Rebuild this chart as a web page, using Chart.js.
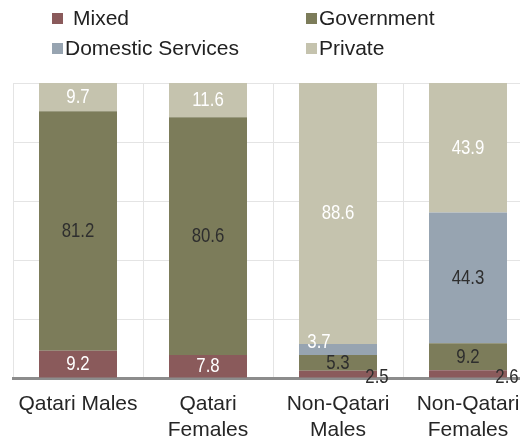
<!DOCTYPE html>
<html>
<head>
<meta charset="utf-8">
<script src="https://cdn.jsdelivr.net/npm/chart.js@4"></script>
<style>
  html, body { margin: 0; padding: 0; background: #fff; overflow: hidden; width: 520px; height: 439px; }
  #wrap { position: absolute; left: 0; top: 0; width: 540px; height: 439px; }
  #legend { position: absolute; left: 0; top: 0; width: 520px; height: 70px; font-family: "Liberation Sans", Arial, sans-serif; font-size: 21px; color: #222; }
  .item { position: absolute; display: flex; align-items: center; white-space: pre; line-height: 24px; }
  .box { width: 11px; height: 11px; margin-right: 2px; display: inline-block; }
</style>
</head>
<body>
<div id="wrap"><canvas id="c" width="540" height="439"></canvas></div>
<div id="legend"></div>
<script>
const categories = [["Qatari Males"], ["Qatari", "Females"], ["Non-Qatari", "Males"], ["Non-Qatari", "Females"]];
const seriesNames = ["Mixed", "Government", "Domestic Services", "Private"];
const mixed = [9.2, 7.8, 2.5, 2.6];
const government = [81.2, 80.6, 5.3, 9.2];
const domestic = [0, 0, 3.7, 44.3];
const privateSector = [9.7, 11.6, 88.6, 43.9];
const yTicks = [0, 20, 40, 60, 80, 100];

const colors = ["#8a5a5b", "#7c7c5a", "#97a4b1", "#c5c3ae"];
const labelColors = ["#ffffff", "#2e2e2e", "#2e2e2e", "#ffffff"];

const labelPlugin = {
  id: "segLabels",
  afterDatasetsDraw(chart) {
    const ctx = chart.ctx;
    const sx = 0.8;
    chart.data.datasets.forEach((ds, di) => {
      const meta = chart.getDatasetMeta(di);
      meta.data.forEach((el, i) => {
        const v = ds.data[i];
        if (!v) return;
        let x = el.x;
        let y = (el.y + el.base) / 2;
        let color = labelColors[di];
        if (di === 0 && v < 3) { x += 39; y += 3; color = "#2e2e2e"; }
        if (di === 2 && v < 5) { x -= 19; y -= 7; color = "#ffffff"; }
        ctx.save();
        ctx.font = '21px "Liberation Sans", Arial, sans-serif';
        ctx.textAlign = "center";
        ctx.textBaseline = "middle";
        ctx.fillStyle = color;
        ctx.translate(x, y);
        ctx.scale(sx, 1);
        ctx.fillText(v.toFixed(1), 0, 0);
        ctx.restore();
      });
    });
  }
};

const chart = new Chart(document.getElementById("c"), {
  type: "bar",
  data: {
    labels: categories,
    datasets: [mixed, government, domestic, privateSector].map((d, i) => ({
      label: seriesNames[i],
      data: d,
      backgroundColor: colors[i],
      borderWidth: 0,
      barPercentage: 0.6,
      categoryPercentage: 1.0
    }))
  },
  options: {
    responsive: false,
    animation: false,
    layout: { padding: { top: 83, left: 13, right: 7, bottom: 0 } },
    plugins: { legend: { display: false }, tooltip: { enabled: false } },
    scales: {
      x: {
        stacked: true,
        grid: { color: "#e4e4e4", lineWidth: 1, offset: true, drawTicks: false },
        border: { display: true, color: "#8c8c8c", width: 3 },
        ticks: { color: "#262626", padding: 14, font: { family: '"Liberation Sans", Arial, sans-serif', size: 21 }, maxRotation: 0, autoSkip: false },
        afterFit(s) { s.height = 61; }
      },
      y: {
        stacked: true,
        min: 0, max: 100,
        afterBuildTicks(s) { s.ticks = yTicks.map(v => ({ value: v })); },
        grid: { color: "#e4e4e4", lineWidth: 1, drawTicks: false },
        border: { display: false },
        ticks: { display: false },
        afterFit(s) { s.width = 0; }
      }
    }
  },
  plugins: [labelPlugin]
});

// HTML legend built from the chart datasets
const legendPos = [[52, 6, true], [306, 6, false], [52, 36, false], [306, 36, false]];
const legend = document.getElementById("legend");
chart.data.datasets.forEach((ds, i) => {
  const it = document.createElement("div");
  it.className = "item";
  it.style.left = legendPos[i][0] + "px";
  it.style.top = legendPos[i][1] + "px";
  const b = document.createElement("span");
  b.className = "box";
  b.style.background = ds.backgroundColor;
  if (legendPos[i][2]) b.style.marginRight = "10px";
  const t = document.createElement("span");
  t.textContent = ds.label;
  it.appendChild(b);
  it.appendChild(t);
  legend.appendChild(it);
});
</script>
</body>
</html>
